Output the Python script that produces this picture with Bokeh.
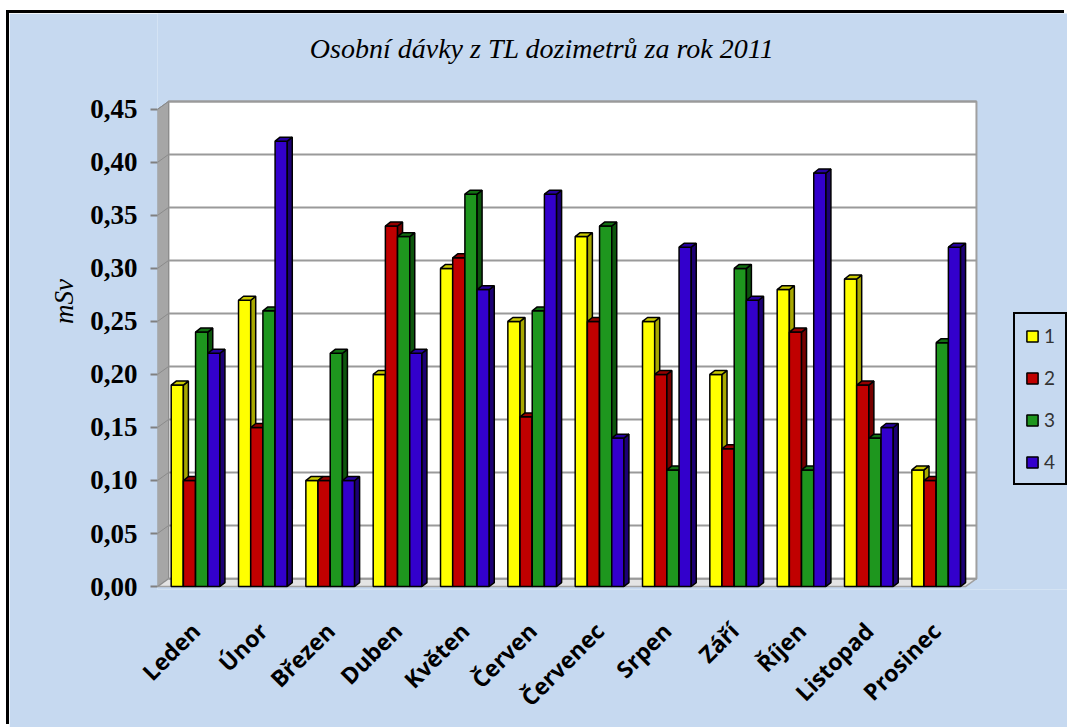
import math
from bokeh.plotting import figure
from bokeh.models import (ColumnDataSource, FixedTicker, CustomJSTickFormatter, Range1d,
                          Legend, LegendItem, Label)
from bokeh.embed import file_html
from bokeh.resources import INLINE

# ---------------- data ----------------
months = ["Leden", "Únor", "Březen", "Duben", "Květen", "Červen",
          "Červenec", "Srpen", "Září", "Říjen", "Listopad", "Prosinec"]
series_names = ["1", "2", "3", "4"]
s1 = [0.19, 0.27, 0.10, 0.20, 0.30, 0.25, 0.33, 0.25, 0.20, 0.28, 0.29, 0.11]
s2 = [0.10, 0.15, 0.10, 0.34, 0.31, 0.16, 0.25, 0.20, 0.13, 0.24, 0.19, 0.10]
s3 = [0.24, 0.26, 0.22, 0.33, 0.37, 0.26, 0.34, 0.11, 0.30, 0.11, 0.14, 0.23]
s4 = [0.22, 0.42, 0.10, 0.22, 0.28, 0.37, 0.14, 0.32, 0.27, 0.39, 0.15, 0.32]
y_ticks = [0.00, 0.05, 0.10, 0.15, 0.20, 0.25, 0.30, 0.35, 0.40, 0.45]
title_text = "Osobní dávky z TL dozimetrů za rok 2011"
y_label = "mSv"

# ---------------- styling ----------------
BG = "#C6D9F0"
front_c = ["#FFFF00", "#C00000", "#1E961E", "#3300CC"]
side_c = ["#A8A800", "#760000", "#0D560D", "#1C0074"]
top_c = ["#CACA00", "#950000", "#127012", "#2600A0"]

n = len(months)
ymax = y_ticks[-1]
PXX = 67.33          # px per category
PXY = 1073.3         # px per unit of y
DXW, DYW = 11 / PXX, 8 / PXY      # wall depth
G0, BW = 0.2035, 0.181            # group start, bar width
DX, DY = 5 / PXX, 4 / PXY         # bar depth

OFFX, OFFY = 9, 13                # page offset of the canvas (black frame drawn by CSS shadow)
W, H = 1067 - OFFX, 727 - OFFY
X0, Y0 = 157, 593                 # page px of data (0, 0)
FB = 596                          # page px of frame bottom

p = figure(width=W, height=H, output_backend="svg", toolbar_location=None,
           x_range=Range1d(0, (1067 - X0) / PXX),
           y_range=Range1d(-(FB - Y0) / PXY, (Y0 - OFFY) / PXY),
           min_border_left=X0 - OFFX, min_border_right=0,
           min_border_top=0, min_border_bottom=727 - FB)
p.styles = {"margin-left": f"{OFFX}px", "margin-top": f"{OFFY}px",
            "box-shadow": "-3px -3px 0 0 black"}
p.background_fill_color = BG
p.border_fill_color = BG
p.outline_line_color = None
p.xgrid.visible = False
p.ygrid.visible = False

# walls
p.patch([DXW, n + DXW, n + DXW, DXW], [DYW, DYW, ymax + DYW, ymax + DYW],
        fill_color="white", line_color="#A0A0A0", line_width=2)
p.patch([0, DXW, DXW, 0], [0, DYW, ymax + DYW, ymax],
        fill_color="#A6A6A6", line_color="#8C8C8C", line_width=1)
p.patch([0, n, n + DXW, DXW], [0, 0, DYW, DYW],
        fill_color="#E4E4E4", line_color="#A0A0A0", line_width=1.5)
# gridlines on back wall
p.segment(x0=[DXW] * len(y_ticks), y0=[v + DYW for v in y_ticks],
          x1=[n + DXW] * len(y_ticks), y1=[v + DYW for v in y_ticks],
          line_color="#9A9A9A", line_width=2)
p.segment(x0=[0] * len(y_ticks), y0=y_ticks, x1=[DXW] * len(y_ticks),
          y1=[v + DYW for v in y_ticks], line_color="#8A8A8A", line_width=1)

# bars
vals = [s1, s2, s3, s4]
renderers = []
for k in range(4):
    lefts = [i + G0 + k * BW for i in range(n)]
    rights = [l + BW for l in lefts]
    tops = vals[k]
    src = ColumnDataSource(dict(left=lefts, right=rights, top=tops, bottom=[0] * n))
    r = p.quad(left="left", right="right", top="top", bottom="bottom", source=src,
               fill_color=front_c[k], line_color="black", line_width=1.5)
    renderers.append(r)
    p.patches([[rr, rr + DX, rr + DX, rr] for rr in rights],
              [[0, DY, t + DY, t] for t in tops],
              fill_color=side_c[k], line_color="black", line_width=1.5)
    p.patches([[l, l + DX, rr + DX, rr] for l, rr in zip(lefts, rights)],
              [[t, t + DY, t + DY, t] for t in tops],
              fill_color=top_c[k], line_color="black", line_width=1.5)

# y axis
ya = p.yaxis[0]
ya.ticker = FixedTicker(ticks=y_ticks)
ya.formatter = CustomJSTickFormatter(code="return tick.toFixed(2).replace('.', ',');")
ya.major_label_text_font = "Liberation Serif"
ya.major_label_text_font_style = "bold"
ya.major_label_text_font_size = "27px"
ya.major_label_text_color = "black"
ya.major_label_standoff = 13
ya.major_tick_out = 7
ya.major_tick_in = 0
ya.major_tick_line_color = "#808080"
ya.major_tick_line_width = 2
ya.minor_tick_line_color = None
ya.axis_line_color = None
ya.axis_label = y_label
ya.axis_label_text_font = "Liberation Serif"
ya.axis_label_text_font_style = "italic"
ya.axis_label_text_font_size = "27px"
ya.axis_label_text_color = "black"
ya.axis_label_standoff = 8

# x axis
center = G0 + 2 * BW
xa = p.xaxis[0]
xa.ticker = FixedTicker(ticks=[i + center for i in range(n)])
xa.formatter = CustomJSTickFormatter(args=dict(labels=months, c=center),
                                     code="return labels[Math.round(tick - c)] || '';")
xa.major_label_orientation = math.pi / 4
xa.major_label_text_font = "Open Sans"
xa.major_label_text_font_style = "bold"
xa.major_label_text_font_size = "23px"
xa.major_label_text_color = "black"
xa.major_label_standoff = 31
xa.major_tick_line_color = None
xa.minor_tick_line_color = None
xa.axis_line_color = None

# title (inside the extended frame)
p.add_layout(Label(x=(541.5 - X0) / PXX, y=(Y0 - 48) / PXY,
                   text=title_text, text_align="center", text_baseline="middle",
                   text_font="Liberation Serif", text_font_style="italic",
                   text_font_size="28px", text_color="black"))

# legend
legend = Legend(items=[LegendItem(label=series_names[k], renderers=[renderers[k]]) for k in range(4)],
                location=(1013 - X0, FB - 492), orientation="vertical",
                glyph_width=14, glyph_height=14, label_standoff=5,
                label_width=10, label_height=20, spacing=19, padding=10, margin=0,
                label_text_font="Lato", label_text_font_size="19px", label_text_color="#333333",
                border_line_color="black", border_line_width=2, border_line_alpha=1,
                background_fill_color=BG, background_fill_alpha=1)
p.add_layout(legend)

html = file_html(p, INLINE)
html = html.replace(
    "<head>",
    "<head><style>html,body{margin:0;padding:0;overflow:hidden;width:1067px;height:727px;}"
    "::-webkit-scrollbar{width:0;height:0;display:none;}</style>", 1)
open("out.html", "w").write(html)
